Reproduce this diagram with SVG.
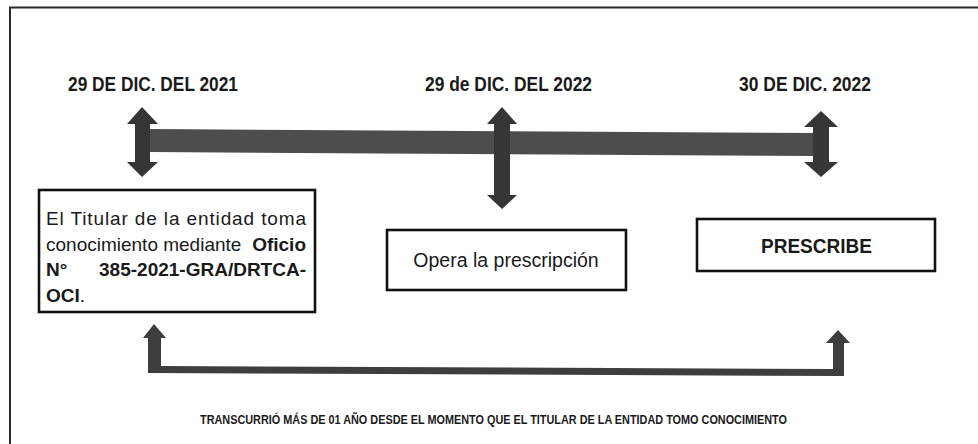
<svg xmlns="http://www.w3.org/2000/svg" width="978" height="444" viewBox="0 0 978 444">
  <style>
    .frame { fill: none; stroke: #2a2a2a; stroke-width: 2; }
    .box { fill: #ffffff; stroke: #111111; stroke-width: 2.6; }
    .date { font-family: "Liberation Sans", Arial, sans-serif; font-weight: bold; font-size: 21px; fill: #1a1a1a; }
    .body { font-family: "Liberation Sans", Arial, sans-serif; font-size: 19px; fill: #1a1a1a; }
    .b { font-weight: bold; }
    .note { font-family: "Liberation Sans", Arial, sans-serif; font-weight: bold; font-size: 12px; fill: #1a1a1a; }
    .bar { fill: #4d4d4d; }
    .arrow { fill: #363636; }
    .conn { fill: #3e3e3e; }
  </style>
  <rect width="978" height="444" fill="#ffffff"/>
  <path class="frame" d="M10,444 L10,7.5 L978,7.5"/>

  <g id="connectors">
    <polygon class="bar" points="150,129 813,133 813,156 150,152"/>
    <polygon class="arrow" points="142,107 158,124 150,124 150,162 158,162 142,177 127,162 135,162 135,124 127,124"/>
    <polygon class="arrow" points="502,107 517,124 510,124 510,195 517,195 502,209 487,195 494,195 494,124 487,124"/>
    <polygon class="arrow" points="821,111 838,127 829,127 829,162 838,162 821,177 804,162 813,162 813,127 804,127"/>
    <polygon class="conn" points="154,324 166,338 161,338 161,366 833,369 833,343 826,343 838,330 850,343 844,343 844,376 148,373 148,338 143,338"/>
  </g>

  <g id="date-2021">
    <text class="date" x="68" y="91" textLength="170" lengthAdjust="spacingAndGlyphs">29 DE DIC. DEL 2021</text>
  </g>
  <g id="date-2022a">
    <text class="date" x="425" y="91" textLength="167" lengthAdjust="spacingAndGlyphs">29 de DIC. DEL 2022</text>
  </g>
  <g id="date-2022b">
    <text class="date" x="739" y="91" textLength="132" lengthAdjust="spacingAndGlyphs">30 DE DIC. 2022</text>
  </g>

  <g id="node-titular">
    <rect class="box" x="39" y="190" width="276" height="122"/>
    <text class="body" x="46" y="225" textLength="260" lengthAdjust="spacing">El Titular de la entidad toma</text>
    <text class="body" x="46" y="250.5">conocimiento mediante</text>
    <text class="body b" x="306" y="250.5" text-anchor="end">Oficio</text>
    <text class="body b" x="46" y="276">N°</text>
    <text class="body b" x="306" y="276" text-anchor="end">385-2021-GRA/DRTCA-</text>
    <text class="body" x="46" y="301.5"><tspan class="b">OCI</tspan>.</text>
  </g>

  <g id="node-opera">
    <rect class="box" x="387" y="230" width="239" height="60"/>
    <text class="body" x="506" y="267" text-anchor="middle" style="font-size:19.5px">Opera la prescripción</text>
  </g>

  <g id="node-prescribe">
    <rect class="box" x="697" y="219" width="238" height="52"/>
    <text class="body b" x="761" y="253" textLength="111" lengthAdjust="spacingAndGlyphs" style="font-size:21px">PRESCRIBE</text>
  </g>

  <g id="note">
    <text class="note" x="200" y="424" textLength="587" lengthAdjust="spacingAndGlyphs">TRANSCURRIÓ MÁS DE 01 AÑO DESDE EL MOMENTO QUE EL TITULAR DE LA ENTIDAD TOMO CONOCIMIENTO</text>
  </g>
</svg>
